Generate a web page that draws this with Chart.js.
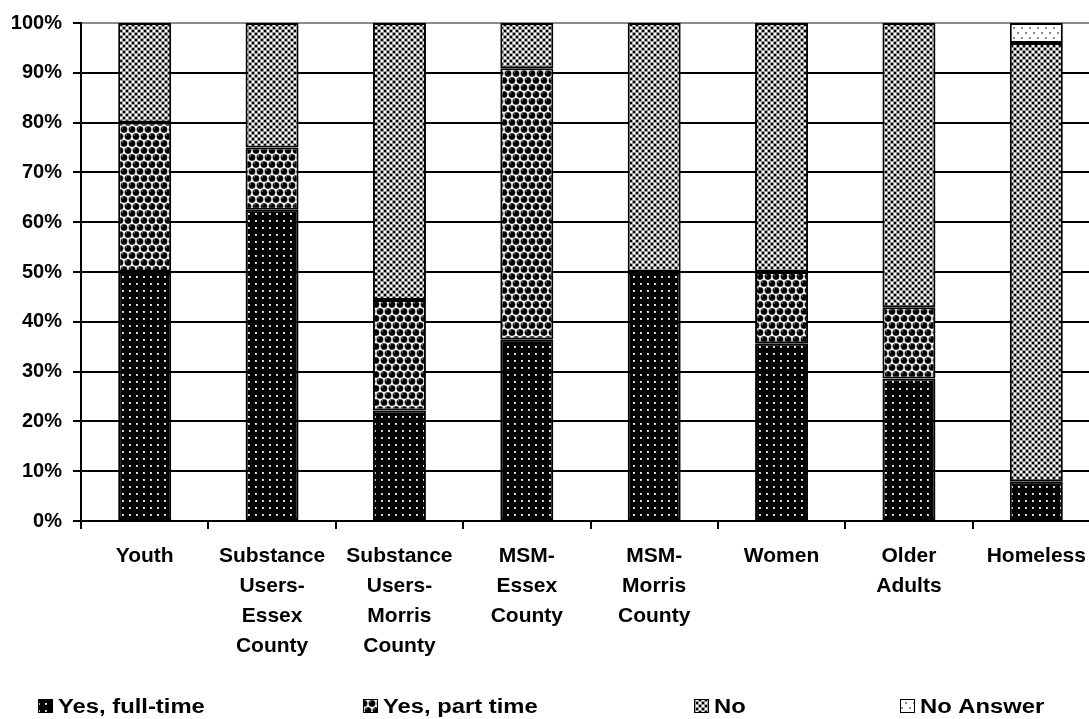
<!DOCTYPE html>
<html>
<head>
<meta charset="utf-8">
<script src="https://cdn.jsdelivr.net/npm/chart.js@4/dist/chart.umd.min.js"></script>
<style>
  html, body { margin: 0; padding: 0; overflow: hidden; background: #fff; }
  #wrap { width: 1100px; height: 719px; }
</style>
</head>
<body>
<div id="wrap"><canvas id="chart" width="1100" height="719"></canvas></div>
<script>
// Employment status by population group (share of respondents, %)
const categories = [
  ['Youth'],
  ['Substance', 'Users-', 'Essex', 'County'],
  ['Substance', 'Users-', 'Morris', 'County'],
  ['MSM-', 'Essex', 'County'],
  ['MSM-', 'Morris', 'County'],
  ['Women'],
  ['Older', 'Adults'],
  ['Homeless']
];
const seriesNames = ['Yes, full-time', 'Yes, part time', 'No', 'No Answer'];
const fullTime = [50, 62.5, 22.2, 36.4, 50, 35.7, 28.6, 8];
const partTime = [30, 12.5, 22.2, 54.5, 0, 14.3, 14.3, 0];
const noWork   = [20, 25, 55.6, 9.1, 50, 50, 57.1, 88];
const noAnswer = [0, 0, 0, 0, 0, 0, 0, 4];

const FONT = '"Liberation Sans", Arial, Helvetica, sans-serif';

// Build a repeating fill from a small tile
function makePattern(w, h, paint) {
  const c = document.createElement('canvas');
  c.width = w; c.height = h;
  const g = c.getContext('2d');
  paint(g, w, h);
  return g.createPattern(c, 'repeat');
}

// black with light dots
const patFull = makePattern(7, 7, (g, w, h) => {
  g.fillStyle = '#000'; g.fillRect(0, 0, w, h);
  g.fillStyle = '#c8c8c8'; g.fillRect(3, 3, 2, 2);
  g.fillStyle = '#fff'; g.fillRect(3, 3, 1, 1);
});

// staggered shaded spheres on white
const patPart = makePattern(16, 14, (g, w, h) => {
  g.fillStyle = '#fff'; g.fillRect(0, 0, w, h);
  const centres = [[4, 3.5], [12, 3.5], [0, 10.5], [8, 10.5], [16, 10.5],
                   [4, 17.5], [12, 17.5], [0, -3.5], [8, -3.5], [16, -3.5]];
  centres.forEach(([x, y]) => {
    g.beginPath(); g.arc(x, y, 3.6, 0, Math.PI * 2);
    g.fillStyle = '#777'; g.fill();
    g.beginPath(); g.arc(x, y, 3.0, 0, Math.PI * 2);
    g.fillStyle = '#000'; g.fill();
    g.fillStyle = '#bbb'; g.fillRect(x - 2, y - 2, 1, 1);
  });
});

// fine checkerboard
const patNo = makePattern(6, 6, (g, w, h) => {
  g.fillStyle = '#9a9a9a'; g.fillRect(0, 0, w, h);
  g.fillStyle = '#000'; g.fillRect(0, 0, 2, 2); g.fillRect(3, 3, 2, 2);
  g.fillStyle = '#fff'; g.fillRect(3, 0, 2, 2); g.fillRect(0, 3, 2, 2);
});

// white with grey dots
const patNA = makePattern(8, 10, (g, w, h) => {
  g.fillStyle = '#fff'; g.fillRect(0, 0, w, h);
  g.fillStyle = '#8a8a8a';
  g.fillRect(1, 2, 2, 2); g.fillRect(5, 7, 2, 2);
});

// Legend drawn as one row with fixed item positions, text slightly widened
const rowLegend = {
  id: 'rowLegend',
  afterDraw(chart, args, opts) {
    const ctx = chart.ctx;
    chart.data.datasets.forEach((ds, i) => {
      const x = opts.xs[i];
      const y = opts.y;
      ctx.save();
      ctx.fillStyle = ds.backgroundColor;
      ctx.fillRect(x, y - 7, 15, 14);
      ctx.strokeStyle = '#000';
      ctx.lineWidth = 1;
      ctx.strokeRect(x + 0.5, y - 6.5, 14, 13);
      ctx.translate(x + 20, y + 1);
      ctx.scale(opts.stretch, 1);
      ctx.font = 'bold 20px ' + FONT;
      ctx.textBaseline = 'middle';
      ctx.textAlign = 'left';
      ctx.fillStyle = '#000';
      ctx.fillText(ds.label, 0, 0);
      ctx.restore();
    });
  }
};

const datasets = [
  { label: seriesNames[0], data: fullTime, backgroundColor: patFull },
  { label: seriesNames[1], data: partTime, backgroundColor: patPart },
  { label: seriesNames[2], data: noWork, backgroundColor: patNo },
  { label: seriesNames[3], data: noAnswer, backgroundColor: patNA }
].map(d => Object.assign(d, {
  borderColor: '#000',
  borderWidth: 2,
  borderSkipped: false,
  barPercentage: 0.416,
  categoryPercentage: 1.0
}));

new Chart(document.getElementById('chart'), {
  type: 'bar',
  data: { labels: categories, datasets },
  options: {
    responsive: false,
    animation: false,
    devicePixelRatio: 1,
    layout: { padding: { left: 0, top: 20, right: 0, bottom: 0 } },
    plugins: {
      legend: { display: false },
      tooltip: { enabled: false },
      rowLegend: { xs: [38, 363, 694, 900], y: 706, stretch: 1.19 }
    },
    scales: {
      x: {
        stacked: true,
        offset: true,
        afterFit: s => { s.height = 198; },
        grid: {
          display: true,
          offset: true,
          drawOnChartArea: false,
          drawTicks: true,
          tickLength: 8,
          color: '#000',
          lineWidth: 2
        },
        border: { display: true, color: '#000', width: 2 },
        ticks: {
          autoSkip: false,
          maxRotation: 0,
          minRotation: 0,
          padding: 12,
          color: '#000',
          font: { family: FONT, size: 21, weight: 'bold', lineHeight: 30 / 21 }
        }
      },
      y: {
        stacked: true,
        min: 0,
        max: 100,
        afterFit: s => { s.width = 81; },
        grid: {
          color: c => (c.tick && c.tick.value === 100) ? '#8c8c8c' : '#000',
          tickColor: '#000',
          lineWidth: 2,
          drawTicks: true,
          tickLength: 8
        },
        border: { display: true, color: '#000', width: 2 },
        ticks: {
          stepSize: 10,
          padding: 11,
          color: '#000',
          font: { family: FONT, size: 20, weight: 'bold' },
          callback: v => v + '%'
        }
      }
    }
  },
  plugins: [rowLegend]
});
</script>
</body>
</html>
